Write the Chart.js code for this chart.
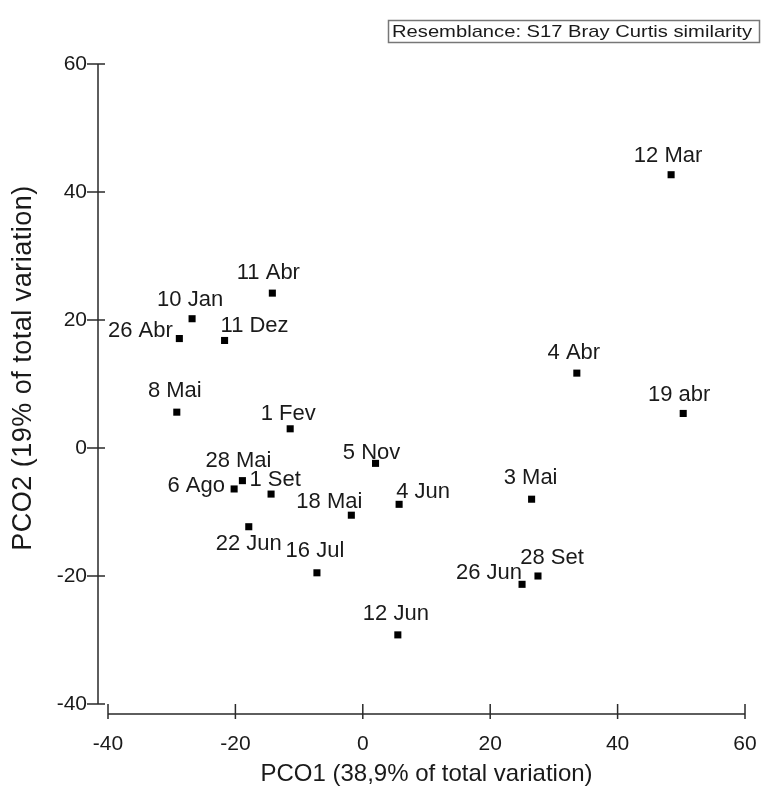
<!DOCTYPE html>
<html>
<head>
<meta charset="utf-8">
<script src="https://cdn.jsdelivr.net/npm/chart.js@4"></script>
<style>
  html, body { margin: 0; padding: 0; background: #fff; }
  #wrap { width: 765px; height: 790px; position: relative; }
</style>
</head>
<body>
<div id="wrap"><canvas id="pcoChart"></canvas></div>
<script>
// sampling dates and their PCO scores
const sampleLabels = ["12 Mar", "11 Abr", "10 Jan", "26 Abr", "11 Dez", "4 Abr", "19 abr", "8 Mai", "1 Fev", "5 Nov",
  "28 Mai", "6 Ago", "1 Set", "18 Mai", "4 Jun", "3 Mai", "22 Jun", "16 Jul", "28 Set", "26 Jun", "12 Jun"];
const pco1 = [48.4, -14.2, -26.8, -28.8, -21.7, 33.6, 50.3, -29.2, -11.4, 2.0,
  -18.9, -20.2, -14.4, -1.8, 5.7, 26.5, -17.9, -7.2, 27.5, 25.0, 5.5];
const pco2 = [42.7, 24.2, 20.2, 17.1, 16.8, 11.7, 5.4, 5.6, 3.0, -2.4,
  -5.1, -6.4, -7.2, -10.5, -8.8, -8.0, -12.3, -19.5, -20.0, -21.3, -29.2];
const axisTicks = [-40, -20, 0, 20, 40, 60];

// where each label sits relative to its point (px)
const labelOffsets = {
  "12 Mar": [-3, -21], "11 Abr": [-4, -22], "10 Jan": [-2, -21], "26 Abr": [-39, -9],
  "11 Dez": [30, -16], "4 Abr": [-3, -22], "19 abr": [-4, -20], "8 Mai": [-2, -23],
  "1 Fev": [-2, -17], "5 Nov": [-4, -12], "28 Mai": [-4, -22], "6 Ago": [-38, -5],
  "1 Set": [4, -16], "18 Mai": [-22, -15], "4 Jun": [24, -14], "3 Mai": [-1, -23],
  "22 Jun": [0, 15], "16 Jul": [-2, -24], "28 Set": [14, -20], "26 Jun": [-33, -13],
  "12 Jun": [-2, -23]
};

const fontFamily = "'Liberation Sans', Arial, sans-serif";
const textColor = "#1a1a1a";
const lineColor = "#2a2a2a";

const points = pco1.map((x, i) => ({ x: x, y: pco2[i] }));

const axesAndLabels = {
  id: "axesAndLabels",
  afterDraw(chart) {
    const ctx = chart.ctx;
    const xs = chart.scales.x;
    const ys = chart.scales.y;
    const area = chart.chartArea;
    ctx.save();
    ctx.strokeStyle = lineColor;
    ctx.lineWidth = 1.5;

    // y axis, drawn a bit left of the plot
    const ax = area.left - 10;
    ctx.beginPath();
    ctx.moveTo(ax, ys.getPixelForValue(60));
    ctx.lineTo(ax, ys.getPixelForValue(-40));
    ys.ticks.forEach(t => {
      const py = ys.getPixelForValue(t.value);
      ctx.moveTo(ax - 11, py);
      ctx.lineTo(ax + 7, py);
    });
    ctx.stroke();

    // x axis, drawn a bit below the plot
    const ay = area.bottom + 10;
    ctx.beginPath();
    ctx.moveTo(xs.getPixelForValue(-40), ay);
    ctx.lineTo(xs.getPixelForValue(60), ay);
    xs.ticks.forEach(t => {
      const px = xs.getPixelForValue(t.value);
      ctx.moveTo(px, ay - 10);
      ctx.lineTo(px, ay + 5);
    });
    ctx.stroke();

    // y axis title
    ctx.save();
    ctx.fillStyle = textColor;
    ctx.font = "27px " + fontFamily;
    ctx.letterSpacing = "0.5px";
    ctx.textAlign = "center";
    ctx.textBaseline = "middle";
    ctx.translate(24, 368);
    ctx.rotate(-Math.PI / 2);
    ctx.fillText("PCO2 (19% of total variation)", 0, 0);
    ctx.restore();

    // point labels
    const meta = chart.getDatasetMeta(0);
    ctx.fillStyle = textColor;
    ctx.font = "22px " + fontFamily;
    ctx.textAlign = "center";
    ctx.textBaseline = "alphabetic";
    meta.data.forEach((el, i) => {
      const name = sampleLabels[i];
      const off = labelOffsets[name] || [0, -21];
      ctx.fillText(name, el.x + off[0], el.y + off[1] + 0.36 * 22);
    });

    // resemblance box
    ctx.strokeStyle = "#777";
    ctx.lineWidth = 1.5;
    ctx.strokeRect(388.5, 20.5, 371, 22);
    ctx.font = "17px " + fontFamily;
    ctx.textAlign = "left";
    ctx.textBaseline = "middle";
    const txt = "Resemblance: S17 Bray Curtis similarity";
    const w = ctx.measureText(txt).width;
    ctx.translate(392, 32);
    ctx.scale(360 / w, 1);
    ctx.fillText(txt, 0, 0);
    ctx.restore();
  }
};

const data = {
  datasets: [
    {
      label: "Samples",
      data: points,
      pointStyle: "rect",
      pointRadius: 5,
      pointHoverRadius: 5,
      pointBorderWidth: 0,
      backgroundColor: "#000",
      borderColor: "#000",
      showLine: false,
    },
  ],
};

const options = {
  responsive: false,
  animation: false,
  layout: { padding: { top: 64, right: 20, left: 0, bottom: 0 } },
  plugins: {
    legend: { display: false },
    tooltip: { enabled: false },
  },
  scales: {
    x: {
      type: "linear",
      min: -40,
      max: 60,
      afterBuildTicks: s => { s.ticks = axisTicks.map(v => ({ value: v })); },
      afterFit: s => { s.height = 86; s.paddingLeft = 0; s.paddingRight = 0; },
      grid: { display: false, drawTicks: false },
      border: { display: false },
      ticks: { padding: 28, color: textColor, font: { family: fontFamily, size: 21 } },
      title: {
        display: true,
        text: "PCO1 (38,9% of total variation)",
        color: textColor,
        font: { family: fontFamily, size: 24 },
        padding: { top: 0, bottom: 1 },
      },
    },
    y: {
      type: "linear",
      min: -40,
      max: 60,
      afterBuildTicks: s => { s.ticks = axisTicks.map(v => ({ value: v })); },
      afterFit: s => { s.width = 108; s.paddingTop = 0; s.paddingBottom = 0; },
      grid: { display: false, drawTicks: false },
      border: { display: false },
      ticks: { padding: 21, color: textColor, font: { family: fontFamily, size: 21 } },
    },
  },
};

const canvas = document.getElementById("pcoChart");
canvas.width = 765;
canvas.height = 790;
const pcoChart = new Chart(canvas, {
  type: "scatter",
  data: data,
  options: options,
  plugins: [axesAndLabels],
});
</script>
</body>
</html>
